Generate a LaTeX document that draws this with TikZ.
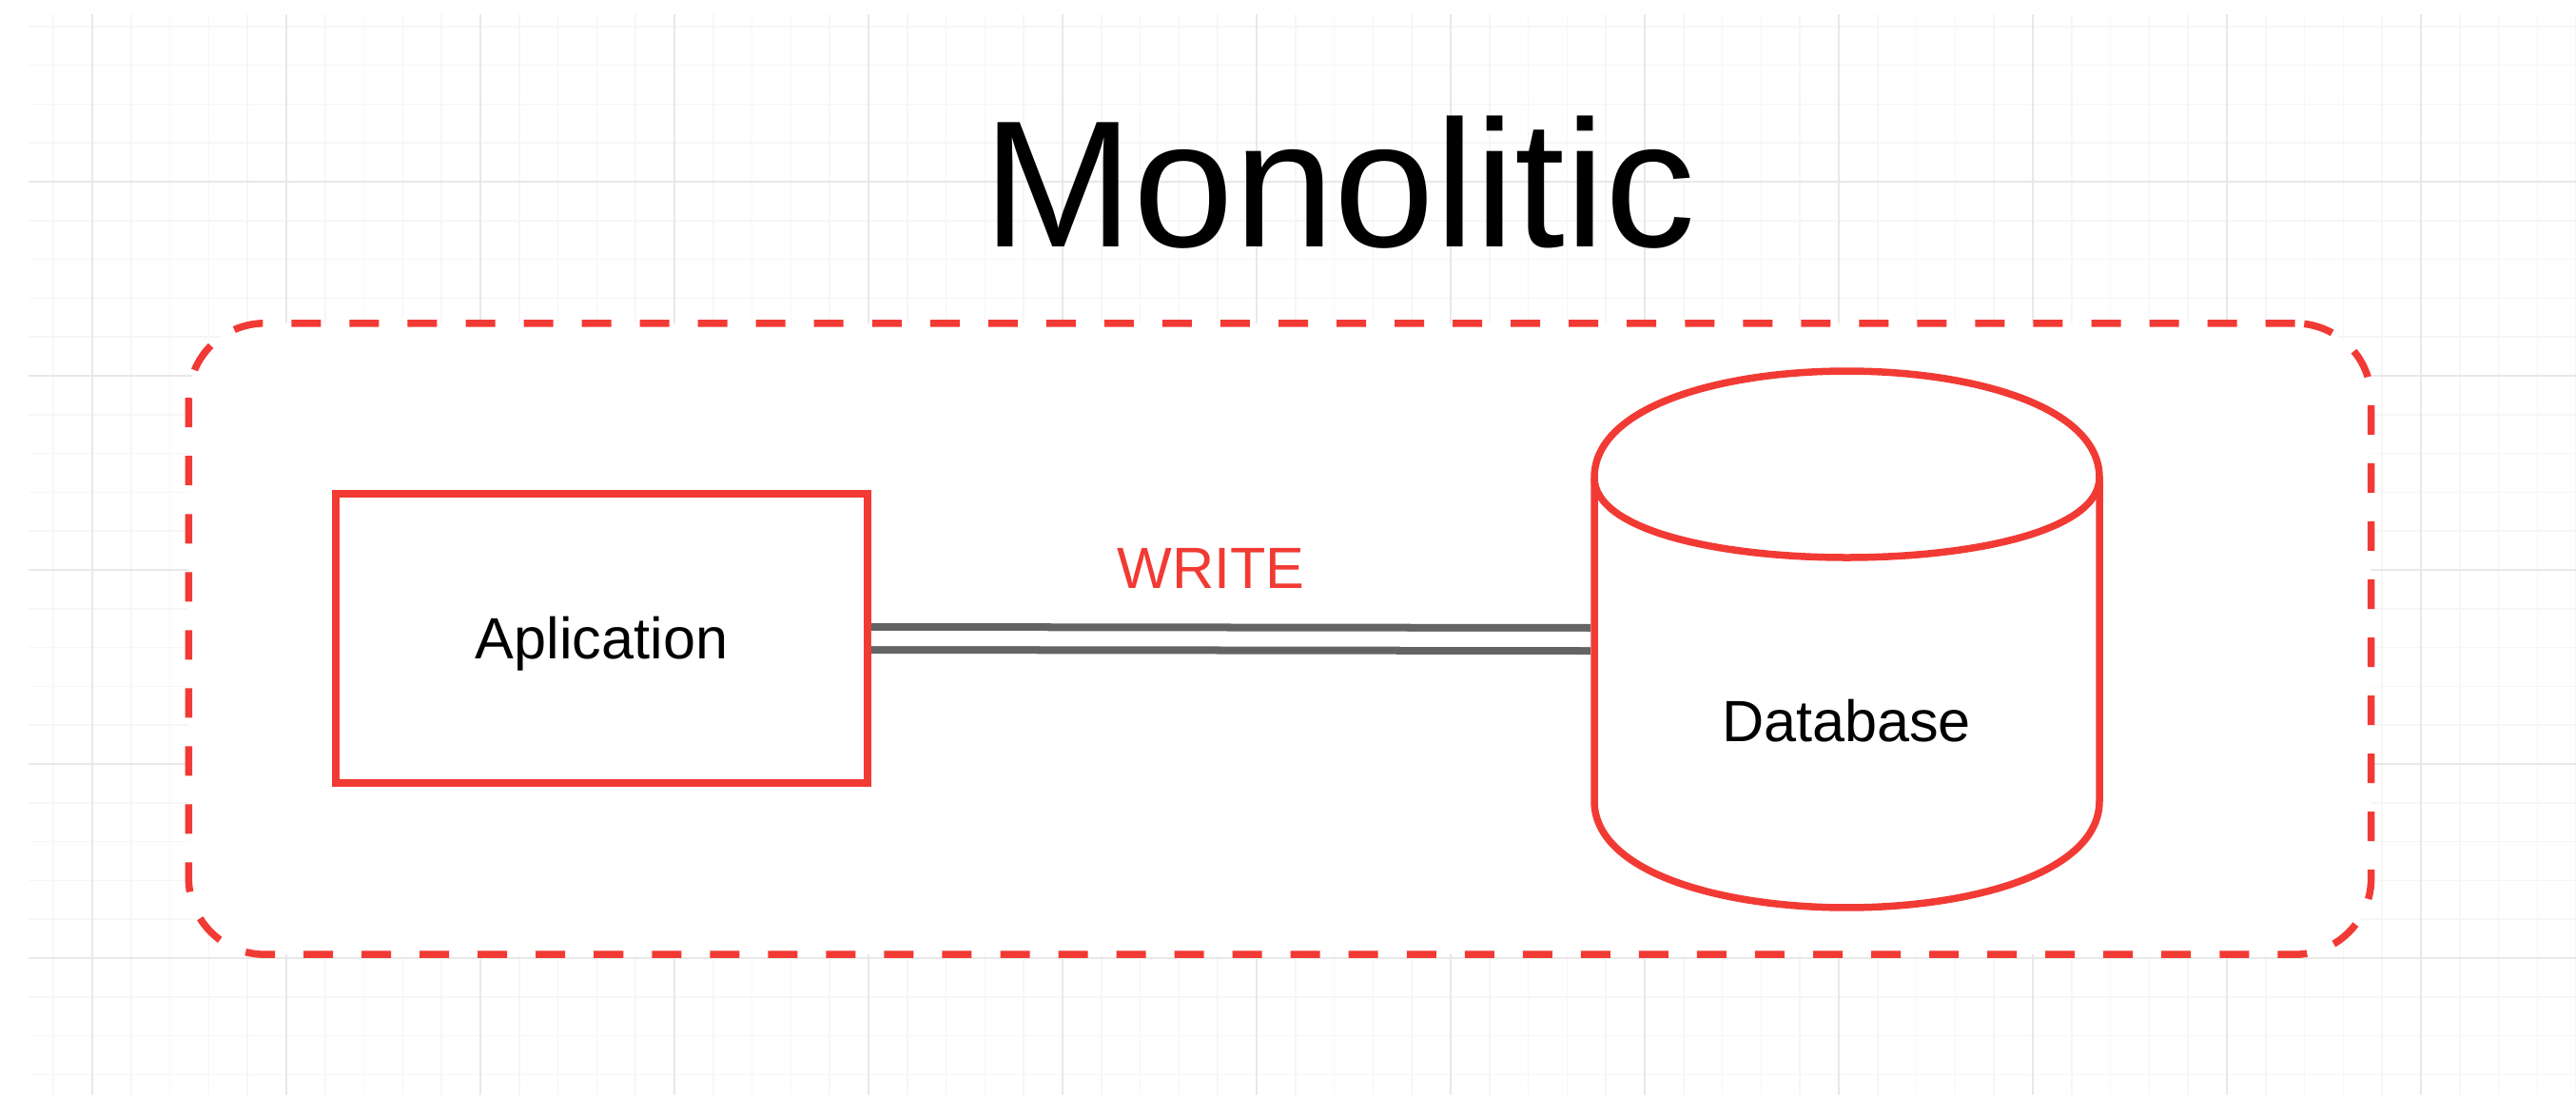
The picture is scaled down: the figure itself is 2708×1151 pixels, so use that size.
\documentclass[tikz,border=0pt]{standalone}
\usepackage{fontspec}
\setmainfont{Liberation Sans}
\definecolor{myred}{RGB}{242,58,52}
\definecolor{linkgray}{RGB}{100,100,100}
\definecolor{gridminor}{RGB}{246,246,246}
\definecolor{gridmajor}{RGB}{232,232,232}
\begin{document}
\begin{tikzpicture}[x=0.01cm,y=-0.01cm,
  gridminorline/.style={draw=gridminor, line width=0.016cm},
  gridmajorline/.style={draw=gridmajor, line width=0.022cm},
  redline/.style={draw=myred, line width=0.075cm},
  bodytext/.style={font=\fontsize{17.4pt}{20pt}\selectfont},
  container/.style={draw=myred, line width=0.075cm, fill=white, rectangle,
    rounded corners=0.8cm, dash pattern=on 0.31cm off 0.30cm, inner sep=0pt},
  appbox/.style={redline, fill=white, rectangle, inner sep=0pt, bodytext,
    text height=12.4pt, text depth=0pt},
  dbholder/.style={rectangle, draw=none, inner sep=0pt, outer sep=0.0375cm},
  link/.style={draw=linkgray, line width=0.08cm, double=white, double distance=0.16cm},
  titletext/.style={font=\fontsize{54pt}{60pt}\selectfont, inner sep=0pt},
  labeltext/.style={bodytext, inner sep=0pt}
]
\useasboundingbox (0,0) rectangle (2708,1151);
\fill[white] (0,0) rectangle (2708,1151);
% grid
\begin{scope}
  \clip (30,15) rectangle (2708,1151);
  \foreach \i in {0,...,65} { \draw[gridminorline] ({56.2+40.8*\i},15) -- ({56.2+40.8*\i},1151); }
  \foreach \j in {0,...,28} { \draw[gridminorline] (30,{27.8+40.8*\j}) -- (2708,{27.8+40.8*\j}); }
  \foreach \i in {0,...,13} { \draw[gridmajorline] ({97+204*\i},15) -- ({97+204*\i},1151); }
  \foreach \j in {0,...,4} { \draw[gridmajorline] (30,{191+204*\j}) -- (2708,{191+204*\j}); }
\end{scope}
% title
\node[titletext, anchor=base] (title) at (1408,259) {Monolitic};
% container
\node[container, minimum width=22.93cm, minimum height=6.63cm] (frame) at (1345.5,671.5) {};
% application
\node[appbox, minimum width=5.59cm, minimum height=3.04cm] (app) at (632.5,671) {Aplication};
% database cylinder
\node[dbholder, minimum width=5.31cm, minimum height=5.64cm] (db) at (1941.5,672) {};
\draw[redline, fill=white] (1676,502) .. controls (1676,352.7) and (2207,352.7) .. (2207,502)
  -- (2207,842) .. controls (2207,991.3) and (1676,991.3) .. (1676,842) -- cycle;
\draw[redline] (1676,502) .. controls (1676,614) and (2207,614) .. (2207,502);
\node[labeltext, anchor=base] (dblabel) at (1941,779) {Database};
% connector
\draw[link] (app.east) -- (db.west);
\node[labeltext, anchor=base, text=myred] (write) at (1273,618) {WRITE};
\end{tikzpicture}
\end{document}
